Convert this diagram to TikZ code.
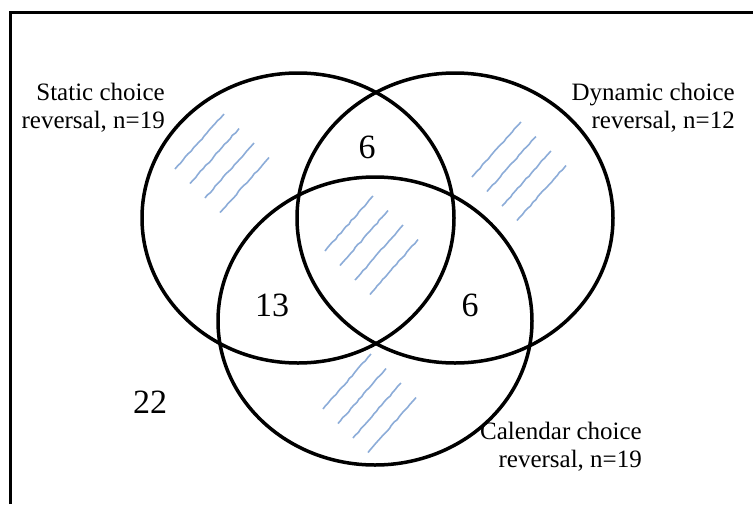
\documentclass[tikz,border=0pt]{standalone}
\usepackage{fontspec}
\setmainfont{Liberation Serif}
\usetikzlibrary{decorations.pathmorphing}
\definecolor{hatchblue}{RGB}{140,172,216}
\tikzset{
  setline/.style={line width=3.5pt},
  hatchline/.style={hatchblue, line width=1.6pt, decorate,
    decoration={random steps, segment length=4pt, amplitude=0.5pt}},
  setlabel/.style={align=right, inner sep=0pt, font=\fontsize{25}{28}\selectfont},
  countlabel/.style={inner sep=0pt, font=\fontsize{34}{40}\selectfont}
}

\begin{document}
\begin{tikzpicture}[x=1pt, y=-1pt]
\pgfmathsetseed{7}
\useasboundingbox (0,0) rectangle (753,504);
\draw[line width=3pt] (10,504) -- (10,12) -- (753,12);
\foreach \sx/\sy/\ex/\ey in {175/169/224/114, 472/177/521/122, 325/251/373/196, 323/409/371/354}
  \foreach \k in {0,...,3}
    \draw[hatchline] (\sx+15*\k, \sy+14.5*\k) -- (\ex+15*\k, \ey+14.5*\k);
\draw[setline] (298,218) ellipse [x radius=156pt, y radius=145pt];
\draw[setline] (455,218) ellipse [x radius=158pt, y radius=145pt];
\draw[setline] (375,321) ellipse [x radius=157pt, y radius=144pt];
\node[setlabel, anchor=north east] (staticlbl) at (165,83) {Static choice\\reversal, n=19};
\node[setlabel, anchor=north east] (dynamiclbl) at (735,83) {Dynamic choice\\reversal, n=12};
\node[setlabel, anchor=north east] (calendarlbl) at (642,422) {Calendar choice\\reversal, n=19};
\node[countlabel] (staticdynamic) at (367,147) {6};
\node[countlabel] (staticcalendar) at (272,305) {13};
\node[countlabel] (dynamiccalendar) at (470,305) {6};
\node[countlabel] (outside) at (150,402) {22};
\end{tikzpicture}
\end{document}
